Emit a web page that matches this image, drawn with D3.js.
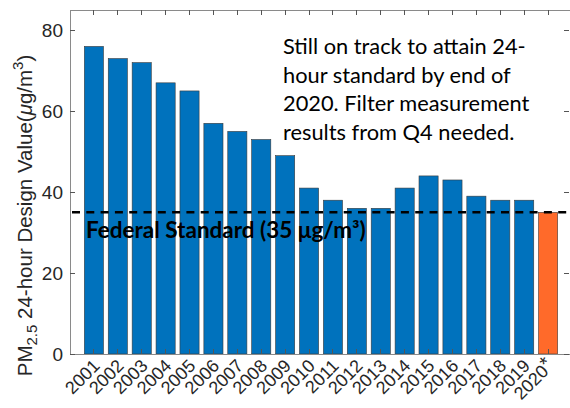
<!DOCTYPE html>
<html><head><meta charset="utf-8">
<script src="https://cdn.jsdelivr.net/npm/d3@7"></script>
<style>
html,body{margin:0;padding:0;background:#fff;}
svg{display:block;}
</style></head>
<body>
<svg id="chart" width="570" height="408"></svg>
<script>
const years = ["2001","2002","2003","2004","2005","2006","2007","2008","2009","2010","2011","2012","2013","2014","2015","2016","2017","2018","2019","2020"];
const values = [76,73,72,67,65,57,55,53,49,41,38,36,36,41,44,43,39,38,38,35];
const yTicks = [0,20,40,60,80];
const standard = 35;
const noteLines = ["Still on track to attain 24-","hour standard by end of","2020. Filter measurement","results from Q4 needed."];

const svg = d3.select("#chart");
const L = 70, R = 572, T = 10, B = 354;
const x = d3.scaleLinear().domain([0, years.length + 1]).range([L, R]);
const y = d3.scaleLinear().domain([0, 85]).range([B, T]);
const step = x(1) - x(0);
const bw = step * 0.8;
const axisCol = "#8a8a8a", textCol = "#262626";

// bars
svg.append("g").selectAll("rect").data(values).join("rect")
  .attr("x", (d,i) => x(i+1) - bw/2)
  .attr("y", d => y(d))
  .attr("width", bw)
  .attr("height", d => y(0) - y(d))
  .attr("fill", (d,i) => i === years.length-1 ? "#FF6A2A" : "#0072BD")
  .attr("stroke", "#3a3a3a").attr("stroke-width", 0.6);

// box lines
const box = svg.append("g").attr("stroke", axisCol).attr("stroke-width", 1).attr("shape-rendering","crispEdges");
box.append("line").attr("x1", L).attr("x2", 570).attr("y1", y(0)).attr("y2", y(0));
box.append("line").attr("x1", L).attr("x2", 570).attr("y1", T).attr("y2", T);
box.append("line").attr("x1", L).attr("x2", L).attr("y1", T).attr("y2", y(0));

// inner ticks
const tk = svg.append("g").attr("stroke", "#555").attr("stroke-width", 1).attr("shape-rendering","crispEdges");
years.forEach((yr,i) => {
  tk.append("line").attr("x1", x(i+1)).attr("x2", x(i+1)).attr("y1", y(0)).attr("y2", y(0)-5);
  tk.append("line").attr("x1", x(i+1)).attr("x2", x(i+1)).attr("y1", T).attr("y2", T+5);
});
yTicks.forEach(v => {
  tk.append("line").attr("x1", L).attr("x2", L+5).attr("y1", y(v)).attr("y2", y(v));
  tk.append("line").attr("x1", 569).attr("x2", 564).attr("y1", y(v)).attr("y2", y(v));
});

// y tick labels
svg.append("g").selectAll("text").data(yTicks).join("text")
  .attr("x", L - 7).attr("y", d => y(d)).attr("dy", "0.36em")
  .attr("text-anchor", "end")
  .attr("font-family", "Liberation Sans, Arial, sans-serif").attr("font-size", 19)
  .attr("fill", textCol).text(d => d);

// x tick labels
const xl = svg.append("g").attr("font-family", "Liberation Sans, Arial, sans-serif").attr("font-size", 18).attr("fill", textCol);
years.forEach((yr,i) => {
  const t = xl.append("text")
    .attr("transform", `translate(${x(i+1)+7},${y(0)+13}) rotate(-45)`)
    .attr("text-anchor", "end");
  t.append("tspan").text(yr);
  if (i === years.length-1) {
    t.append("tspan").attr("font-size", 20).attr("dy", "-0.15em").text("*");
  }
});

// y axis title
const yt = svg.append("text")
  .attr("transform", `translate(32,${(38+393)/2}) rotate(-90)`)
  .attr("text-anchor", "middle")
  .attr("font-family", "Liberation Sans, Arial, sans-serif").attr("font-size", 20.5)
  .attr("fill", textCol);
yt.append("tspan").text("PM");
yt.append("tspan").attr("font-size", 15).attr("dy", 5).text("2.5");
yt.append("tspan").attr("dy", -5).text(" 24-hour Design Value(");
yt.append("tspan").attr("font-style", "italic").text("μ");
yt.append("tspan").text("g/m");
yt.append("tspan").attr("font-size", 15).attr("dy", -9).text("3");
yt.append("tspan").attr("dy", 9).text(")");

// standard line
svg.append("line").attr("x1", L+2).attr("x2", 570).attr("y1", y(standard)).attr("y2", y(standard))
  .attr("stroke", "#000").attr("stroke-width", 2.5).attr("stroke-dasharray", "8,6.3");

svg.append("text").attr("x", 86).attr("y", 238)
  .attr("font-family", "Lato, Open Sans, sans-serif").attr("font-weight", "bold").attr("font-size", 22.5)
  .attr("fill", "#000").text("Federal Standard (35 μg/m³)");

// note
svg.append("g").selectAll("text").data(noteLines).join("text")
  .attr("x", 283).attr("y", (d,i) => 54 + i*28.5)
  .attr("font-family", "Lato, Open Sans, sans-serif").attr("font-size", 21.8)
  .attr("fill", "#000").text(d => d);
</script>
</body></html>
